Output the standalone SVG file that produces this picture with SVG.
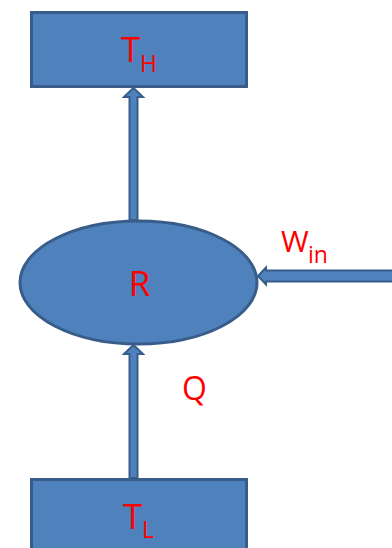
<svg xmlns="http://www.w3.org/2000/svg" width="392" height="548" viewBox="0 0 392 548">
<style>
.node{fill:#4F81BD;stroke:#385D8A;stroke-width:3}
.arrow{fill:#4F81BD;stroke:#385D8A;stroke-width:2;stroke-linejoin:miter}
.lbl{fill:#FF0000;font-family:"Open Sans","Liberation Sans",sans-serif}
</style>
<rect width="392" height="548" fill="#FFFFFF"/>
<g id="TH">
<rect class="node" x="31.5" y="12.5" width="215" height="74"/>
<text class="lbl" x="121" y="62" font-size="35">T</text>
<text class="lbl" x="140" y="72" font-size="23">H</text>
</g>
<g id="R">
<ellipse class="node" cx="138.5" cy="282.5" rx="118.5" ry="61.5"/>
<text class="lbl" x="139.5" y="296" font-size="35" text-anchor="middle">R</text>
</g>
<g id="TL">
<rect class="node" x="31.5" y="479.5" width="215" height="80"/>
<text class="lbl" x="123" y="529" font-size="35">T</text>
<text class="lbl" x="142" y="538" font-size="23">L</text>
</g>
<g id="connectors">
<polygon class="arrow" points="133.5,88 143,97 137.5,97 137.5,220 129.5,220 129.5,97 124,97"/>
<polygon class="arrow" points="133.5,345 143,354 137.5,354 137.5,478 129.5,478 129.5,354 124,354"/>
<polygon class="arrow" points="258,276 266,267.5 266,270.5 394,270.5 394,281.5 266,281.5 266,284.5"/>
</g>
<g id="labels">
<text class="lbl" x="281" y="252" font-size="30">W</text>
<text class="lbl" x="308" y="263" font-size="23">in</text>
<text class="lbl" x="194.5" y="400" font-size="32" text-anchor="middle">Q</text>
</g>
</svg>
